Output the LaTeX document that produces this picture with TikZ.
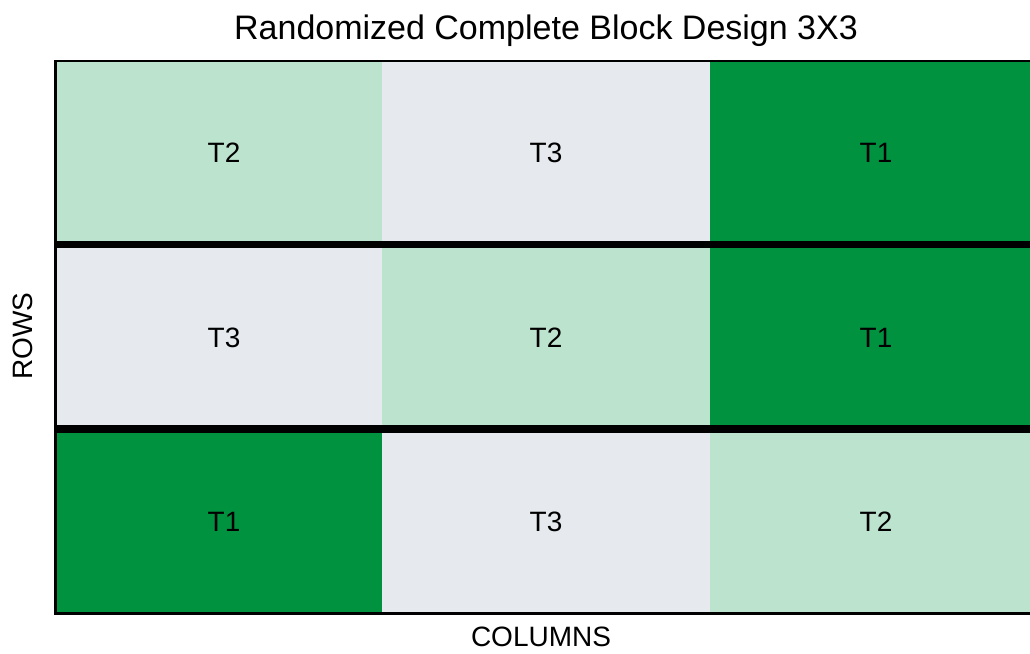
\documentclass[tikz,border=0pt]{standalone}
\usepackage{fontspec}
\setmainfont{Liberation Sans}
\definecolor{lgreen}{RGB}{187,227,205}
\definecolor{dgreen}{RGB}{0,146,63}
\definecolor{lgray}{RGB}{230,234,238}
\begin{document}
\begin{tikzpicture}[x=1pt,y=-1pt,
  lbl/.style={font=\fontsize{28}{33}\selectfont, text=black},
  tlbl/.style={font=\fontsize{28}{33}\selectfont, text=black}]
\useasboundingbox[fill=white] (0,0) rectangle (1030,653);
% cells: columns 55-382, 382-710, 710-1030; rows 61-245, 245-429, 429-613
\fill[lgreen] (55,61) rectangle (382,245);
\fill[lgray]  (382,61) rectangle (710,245);
\fill[dgreen] (710,61) rectangle (1030,245);
\fill[lgray]  (55,245) rectangle (382,429);
\fill[lgreen] (382,245) rectangle (710,429);
\fill[dgreen] (710,245) rectangle (1030,429);
\fill[dgreen] (55,429) rectangle (382,613);
\fill[lgray]  (382,429) rectangle (710,613);
\fill[lgreen] (710,429) rectangle (1030,613);
% labels
\node[tlbl] (c11) at (224,153) {T2};
\node[tlbl] (c12) at (546,153) {T3};
\node[tlbl] (c13) at (876,153) {T1};
\node[tlbl] (c21) at (224,338) {T3};
\node[tlbl] (c22) at (546,338) {T2};
\node[tlbl] (c23) at (876,338) {T1};
\node[tlbl] (c31) at (224,522) {T1};
\node[tlbl] (c32) at (546,522) {T3};
\node[tlbl] (c33) at (876,522) {T2};
% frame lines
\draw[line width=2.5] (54,61) -- (1030,61);
\draw[line width=3] (55,60) -- (55,614);
\draw[line width=3] (54,613) -- (1030,613);
\draw[line width=7.5] (55,244.5) -- (1030,244.5);
\draw[line width=7.5] (55,429) -- (1030,429);
% titles
\node[font=\fontsize{34}{40}\selectfont] (title) at (546,31) {Randomized Complete Block Design 3X3};
\node[lbl] (xlab) at (541,637) {COLUMNS};
\node[lbl, rotate=90] (ylab) at (23,336) {ROWS};
\end{tikzpicture}
\end{document}
